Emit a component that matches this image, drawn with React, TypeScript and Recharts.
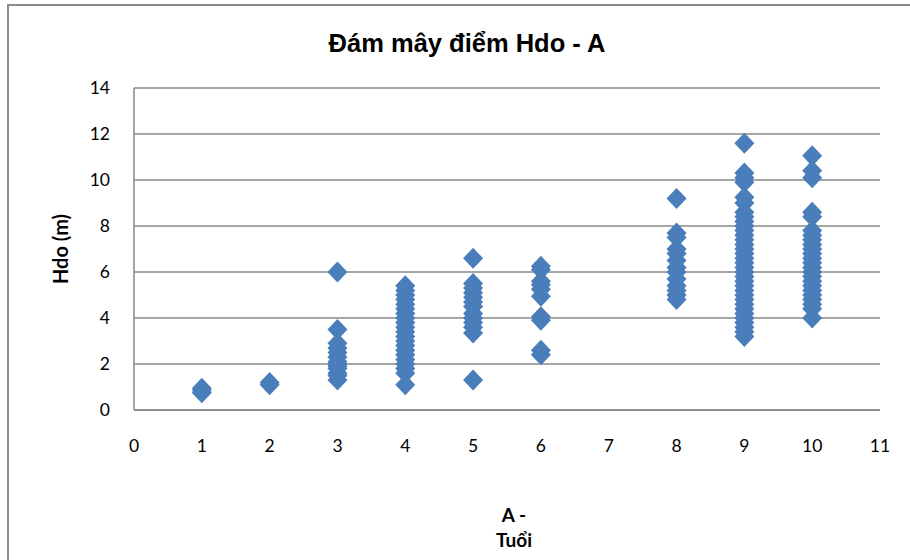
import { CartesianGrid, Scatter, ScatterChart, XAxis, YAxis } from "recharts";

// Hdo (m) values, grouped by age A (tuổi)
const hdoAge1 = [0.75, 0.85, 0.95];
const hdoAge2 = [1.1, 1.2];
const hdoAge3 = [6.0, 3.5, 2.9, 2.7, 2.5, 2.3, 2.1, 2.0, 1.9, 1.8, 1.6, 1.5, 1.3];
const hdoAge4 = [5.4, 5.2, 5.0, 4.8, 4.6, 4.4, 4.2, 4.0, 3.8, 3.6, 3.4, 3.2, 3.0, 2.8, 2.6, 2.4, 2.2, 2.0, 1.8, 1.6, 1.1];
const hdoAge5 = [6.6, 5.5, 5.3, 5.1, 4.9, 4.7, 4.5, 4.2, 4.0, 3.8, 3.6, 3.35, 1.3];
const hdoAge6 = [6.25, 6.1, 5.6, 5.45, 5.25, 4.95, 4.05, 3.9, 2.6, 2.4];
const hdoAge8 = [9.2, 7.7, 7.5, 7.0, 6.8, 6.5, 6.2, 6.0, 5.7, 5.4, 5.2, 5.0, 4.8];
const hdoAge9 = [
  11.6, 10.3, 10.1, 9.9, 9.25, 9.0, 8.6, 8.4, 8.2, 8.0, 7.8, 7.6, 7.4, 7.2, 7.0, 6.8, 6.6, 6.4, 6.2, 6.0,
  5.8, 5.6, 5.4, 5.2, 5.0, 4.8, 4.6, 4.4, 4.2, 4.0, 3.8, 3.6, 3.4, 3.2,
];
const hdoAge10 = [
  11.05, 10.4, 10.1, 8.6, 8.4, 7.8, 7.6, 7.4, 7.2, 7.0, 6.8, 6.6, 6.4, 6.2, 6.0, 5.8, 5.6, 5.4, 5.2, 5.0,
  4.8, 4.6, 4.4, 4.0,
];

const ages = [1, 2, 3, 4, 5, 6, 8, 9, 10];
const hdoByAge = [hdoAge1, hdoAge2, hdoAge3, hdoAge4, hdoAge5, hdoAge6, hdoAge8, hdoAge9, hdoAge10];

const xTicks = [0, 1, 2, 3, 4, 5, 6, 7, 8, 9, 10, 11];
const yTicks = [0, 2, 4, 6, 8, 10, 12, 14];

const points = ages.flatMap((a, i) => hdoByAge[i].map((h) => ({ a, h })));

const BLUE = "#4A7EBB";
const GRID = "#888888";
const TICK_FONT = "Lato, 'Open Sans', sans-serif";

function Diamond(props: any) {
  const { cx, cy } = props;
  if (cx == null || cy == null) return null;
  const w = 10;
  const h = 10.5;
  return <path d={`M${cx},${cy - h}L${cx + w},${cy}L${cx},${cy + h}L${cx - w},${cy}Z`} fill={BLUE} />;
}

export default function App() {
  return (
    <div style={{ position: "absolute", left: 0, top: 0, width: 910, height: 560, background: "#fff", overflow: "hidden" }}>
      <div
        style={{
          position: "absolute",
          left: 7,
          top: 4,
          width: 940,
          height: 600,
          border: "2px solid #8c8c8c",
        }}
      />
      <div
        style={{
          position: "absolute",
          left: 0,
          width: 934,
          top: 28,
          textAlign: "center",
          fontFamily: "'Liberation Sans', Arial, sans-serif",
          fontWeight: "bold",
          fontSize: 25.5,
          lineHeight: "30px",
          color: "#000",
        }}
      >
        Đám mây điểm Hdo - A
      </div>
      <ScatterChart width={910} height={560} margin={{ top: 88, right: 30, left: 0, bottom: 0 }}>
        <CartesianGrid vertical={false} stroke={GRID} strokeWidth={1.5} />
        <XAxis
          type="number"
          dataKey="a"
          domain={[0, 11]}
          ticks={xTicks}
          interval={0}
          height={150}
          tickLine={false}
          tickSize={0}
          tickMargin={30}
          axisLine={{ stroke: GRID, strokeWidth: 1.5 }}
          tick={{ fontSize: 17.5, fill: "#000", fontFamily: TICK_FONT }}
        />
        <YAxis
          type="number"
          dataKey="h"
          domain={[0, 14]}
          ticks={yTicks}
          interval={0}
          width={134}
          tickLine={false}
          tickSize={0}
          tickMargin={24}
          axisLine={{ stroke: GRID, strokeWidth: 1.5 }}
          tick={{ fontSize: 17.5, fill: "#000", fontFamily: TICK_FONT }}
        />
        <Scatter data={points} fill={BLUE} shape={Diamond} isAnimationActive={false} />
      </ScatterChart>
      <div
        style={{
          position: "absolute",
          left: 60,
          top: 249,
          transform: "translate(-50%, -50%) rotate(-90deg)",
          whiteSpace: "nowrap",
          fontFamily: TICK_FONT,
          fontWeight: "bold",
          fontSize: 20,
          lineHeight: "22px",
        }}
      >
        Hdo (m)
      </div>
      <div
        style={{
          position: "absolute",
          left: 464,
          width: 100,
          top: 502,
          textAlign: "center",
          fontFamily: TICK_FONT,
          fontWeight: "bold",
          fontSize: 19,
          lineHeight: "25px",
        }}
      >
        A -
        <br />
        Tuổi
      </div>
    </div>
  );
}
